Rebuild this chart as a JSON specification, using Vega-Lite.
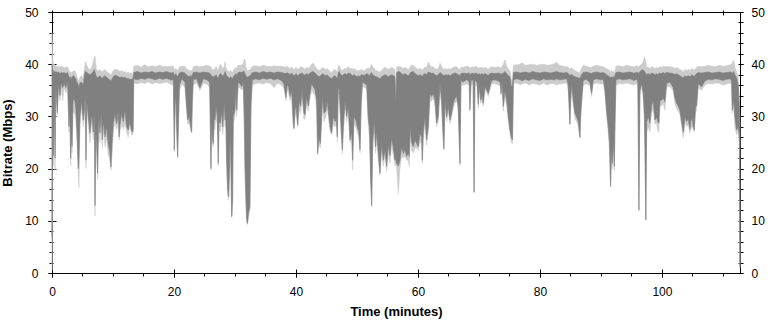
{
  "$schema": "https://vega.github.io/schema/vega-lite/v6.json",
  "width": 688,
  "height": 261,
  "autosize": {"type": "none"},
  "padding": {"left": 52, "top": 12, "right": 31, "bottom": 49},
  "background": "white",
  "config": {
    "view": {"stroke": "black", "strokeWidth": 1},
    "axis": {
      "domain": false, "grid": false, "tickColor": "black", "tickWidth": 1,
      "labelFont": "Liberation Sans", "labelFontSize": 12, "labelColor": "black",
      "labelFlush": false, "labelOverlap": false, "labelBound": false,
      "titleFont": "Liberation Sans", "titleFontSize": 13, "titleFontWeight": "bold", "titleColor": "black",
      "zindex": 1
    }
  },
  "data": {"values": [
    {"t":0.0,"top":40.0,"bot":7.0,"lo":0.5,"hi":46.0},
    {"t":0.12,"top":39.0,"bot":30.0,"lo":26.0,"hi":41.0},
    {"t":0.25,"top":38.6,"bot":22.5,"lo":20.5,"hi":40.0},
    {"t":0.4,"top":38.6,"bot":35.5,"lo":33.0,"hi":40.0},
    {"t":0.5,"top":38.4,"bot":22.0,"lo":19.7,"hi":39.8},
    {"t":0.62,"top":38.6,"bot":36.0,"lo":34.5,"hi":39.6},
    {"t":0.87,"top":38.4,"bot":30.7,"lo":30.0,"hi":39.5},
    {"t":1.05,"top":38.5,"bot":36.3,"lo":35.0,"hi":39.6},
    {"t":1.31,"top":38.2,"bot":34.0,"lo":33.0,"hi":39.4},
    {"t":1.5,"top":38.4,"bot":36.5,"lo":35.5,"hi":39.6},
    {"t":1.75,"top":38.3,"bot":35.5,"lo":33.0,"hi":39.5},
    {"t":2.0,"top":38.4,"bot":36.3,"lo":35.5,"hi":39.3},
    {"t":2.29,"top":38.2,"bot":35.5,"lo":34.5,"hi":39.4},
    {"t":2.55,"top":38.4,"bot":36.8,"lo":35.8,"hi":39.5},
    {"t":2.78,"top":37.6,"bot":28.0,"lo":27.0,"hi":38.8},
    {"t":2.92,"top":37.4,"bot":32.0,"lo":30.0,"hi":38.6},
    {"t":3.06,"top":37.6,"bot":21.9,"lo":20.5,"hi":38.5},
    {"t":3.18,"top":37.0,"bot":27.0,"lo":25.5,"hi":38.2},
    {"t":3.28,"top":37.5,"bot":24.2,"lo":22.9,"hi":38.5},
    {"t":3.45,"top":37.8,"bot":33.0,"lo":31.0,"hi":38.6},
    {"t":3.7,"top":37.6,"bot":33.4,"lo":30.6,"hi":38.8},
    {"t":3.9,"top":37.2,"bot":31.5,"lo":29.5,"hi":38.4},
    {"t":4.1,"top":36.5,"bot":27.0,"lo":25.0,"hi":37.5},
    {"t":4.31,"top":36.0,"bot":20.0,"lo":18.5,"hi":37.0},
    {"t":4.42,"top":35.5,"bot":22.0,"lo":16.4,"hi":36.8},
    {"t":4.59,"top":36.5,"bot":30.0,"lo":28.5,"hi":37.5},
    {"t":4.85,"top":36.5,"bot":33.0,"lo":31.5,"hi":37.8},
    {"t":5.13,"top":36.0,"bot":29.3,"lo":28.0,"hi":37.2},
    {"t":5.3,"top":37.8,"bot":31.0,"lo":29.5,"hi":39.0},
    {"t":5.45,"top":38.6,"bot":34.5,"lo":33.0,"hi":40.2},
    {"t":5.57,"top":38.6,"bot":21.6,"lo":20.0,"hi":40.5},
    {"t":5.7,"top":38.4,"bot":33.0,"lo":31.5,"hi":39.8},
    {"t":5.95,"top":38.2,"bot":30.0,"lo":28.5,"hi":39.2},
    {"t":6.23,"top":38.0,"bot":26.8,"lo":25.0,"hi":39.0},
    {"t":6.5,"top":38.2,"bot":30.5,"lo":29.0,"hi":39.3},
    {"t":6.77,"top":38.6,"bot":27.0,"lo":25.5,"hi":40.5},
    {"t":6.95,"top":39.0,"bot":31.0,"lo":29.0,"hi":41.4},
    {"t":7.05,"top":38.5,"bot":12.9,"lo":10.9,"hi":41.6},
    {"t":7.18,"top":38.0,"bot":28.0,"lo":26.0,"hi":40.0},
    {"t":7.32,"top":37.6,"bot":25.0,"lo":23.0,"hi":38.8},
    {"t":7.48,"top":37.4,"bot":19.1,"lo":18.0,"hi":38.8},
    {"t":7.65,"top":37.6,"bot":30.0,"lo":28.0,"hi":38.8},
    {"t":7.87,"top":37.8,"bot":26.8,"lo":25.0,"hi":39.0},
    {"t":8.05,"top":37.5,"bot":31.0,"lo":29.5,"hi":38.6},
    {"t":8.25,"top":37.2,"bot":25.5,"lo":24.0,"hi":38.5},
    {"t":8.41,"top":37.6,"bot":29.0,"lo":27.5,"hi":38.8},
    {"t":8.7,"top":37.8,"bot":26.1,"lo":24.2,"hi":39.0},
    {"t":8.96,"top":37.5,"bot":28.0,"lo":26.0,"hi":38.6},
    {"t":9.23,"top":37.2,"bot":24.5,"lo":22.5,"hi":38.4},
    {"t":9.45,"top":37.0,"bot":23.5,"lo":22.0,"hi":38.2},
    {"t":9.67,"top":36.8,"bot":20.3,"lo":19.7,"hi":38.0},
    {"t":9.85,"top":37.2,"bot":25.0,"lo":23.0,"hi":38.3},
    {"t":10.05,"top":37.6,"bot":28.6,"lo":26.8,"hi":38.8},
    {"t":10.3,"top":37.9,"bot":30.5,"lo":29.0,"hi":39.0},
    {"t":10.6,"top":37.8,"bot":28.6,"lo":27.5,"hi":39.0},
    {"t":10.87,"top":37.6,"bot":31.0,"lo":29.0,"hi":38.8},
    {"t":11.0,"top":37.6,"bot":26.1,"lo":25.5,"hi":38.8},
    {"t":11.14,"top":37.4,"bot":28.5,"lo":27.0,"hi":38.6},
    {"t":11.42,"top":37.6,"bot":30.5,"lo":28.5,"hi":38.8},
    {"t":11.7,"top":37.4,"bot":29.0,"lo":27.5,"hi":38.5},
    {"t":11.97,"top":37.5,"bot":31.2,"lo":28.7,"hi":38.6},
    {"t":12.24,"top":37.2,"bot":28.0,"lo":27.0,"hi":38.3},
    {"t":12.5,"top":37.3,"bot":27.4,"lo":26.0,"hi":38.5},
    {"t":12.78,"top":37.0,"bot":29.0,"lo":28.7,"hi":38.2},
    {"t":13.0,"top":37.2,"bot":27.4,"lo":26.5,"hi":38.4},
    {"t":13.22,"top":37.0,"bot":27.0,"lo":26.5,"hi":38.0},
    {"t":13.3,"top":37.4,"bot":27.5,"lo":26.8,"hi":38.4},
    {"t":13.4,"top":38.4,"bot":37.2,"lo":36.4,"hi":39.6},
    {"t":14.0,"top":38.6,"bot":37.0,"lo":36.2,"hi":39.8},
    {"t":14.6,"top":38.3,"bot":37.3,"lo":36.5,"hi":39.4},
    {"t":15.2,"top":38.5,"bot":37.1,"lo":36.3,"hi":39.9},
    {"t":15.8,"top":38.4,"bot":37.4,"lo":36.6,"hi":39.5},
    {"t":16.4,"top":38.6,"bot":37.2,"lo":36.2,"hi":39.7},
    {"t":17.0,"top":38.3,"bot":37.0,"lo":36.5,"hi":39.5},
    {"t":17.6,"top":38.5,"bot":37.3,"lo":36.3,"hi":39.8},
    {"t":18.2,"top":38.4,"bot":37.1,"lo":36.4,"hi":39.6},
    {"t":18.8,"top":38.6,"bot":37.3,"lo":36.6,"hi":39.5},
    {"t":19.4,"top":38.3,"bot":37.0,"lo":36.2,"hi":39.6},
    {"t":19.9,"top":38.4,"bot":37.0,"lo":36.0,"hi":39.6},
    {"t":20.0,"top":38.0,"bot":28.0,"lo":26.5,"hi":39.2},
    {"t":20.05,"top":37.8,"bot":23.6,"lo":23.2,"hi":39.0},
    {"t":20.16,"top":38.0,"bot":32.0,"lo":30.0,"hi":39.0},
    {"t":20.3,"top":38.2,"bot":34.0,"lo":31.5,"hi":39.2},
    {"t":20.45,"top":37.8,"bot":28.0,"lo":26.0,"hi":39.0},
    {"t":20.6,"top":37.6,"bot":22.3,"lo":22.0,"hi":38.8},
    {"t":20.75,"top":38.0,"bot":30.0,"lo":28.0,"hi":39.0},
    {"t":20.9,"top":38.3,"bot":36.0,"lo":35.0,"hi":39.5},
    {"t":21.3,"top":38.5,"bot":37.2,"lo":36.2,"hi":39.6},
    {"t":21.8,"top":38.3,"bot":36.5,"lo":35.5,"hi":39.6},
    {"t":22.0,"top":38.0,"bot":33.0,"lo":32.0,"hi":39.2},
    {"t":22.24,"top":37.8,"bot":29.3,"lo":28.5,"hi":39.0},
    {"t":22.45,"top":37.6,"bot":30.0,"lo":28.7,"hi":38.8},
    {"t":22.7,"top":37.8,"bot":28.5,"lo":27.5,"hi":38.8},
    {"t":22.89,"top":37.6,"bot":27.0,"lo":26.8,"hi":38.8},
    {"t":23.0,"top":38.0,"bot":33.0,"lo":31.0,"hi":39.0},
    {"t":23.16,"top":38.4,"bot":37.0,"lo":36.0,"hi":39.5},
    {"t":23.7,"top":38.5,"bot":37.2,"lo":36.4,"hi":39.7},
    {"t":24.26,"top":38.3,"bot":35.5,"lo":35.0,"hi":39.5},
    {"t":24.8,"top":38.5,"bot":37.2,"lo":36.3,"hi":39.6},
    {"t":25.4,"top":38.4,"bot":37.0,"lo":36.2,"hi":39.8},
    {"t":25.85,"top":38.3,"bot":36.5,"lo":35.5,"hi":39.6},
    {"t":26.06,"top":38.0,"bot":20.0,"lo":19.7,"hi":39.5},
    {"t":26.17,"top":37.8,"bot":29.0,"lo":27.0,"hi":39.2},
    {"t":26.3,"top":37.6,"bot":26.0,"lo":24.5,"hi":39.0},
    {"t":26.44,"top":37.5,"bot":24.8,"lo":24.2,"hi":38.8},
    {"t":26.6,"top":37.8,"bot":30.0,"lo":28.0,"hi":39.2},
    {"t":26.72,"top":37.6,"bot":29.3,"lo":27.5,"hi":39.0},
    {"t":26.9,"top":38.0,"bot":32.0,"lo":30.0,"hi":39.6},
    {"t":27.1,"top":37.5,"bot":30.0,"lo":28.5,"hi":39.0},
    {"t":27.26,"top":37.2,"bot":21.0,"lo":20.5,"hi":38.8},
    {"t":27.37,"top":37.8,"bot":29.0,"lo":27.5,"hi":39.4},
    {"t":27.6,"top":38.2,"bot":28.7,"lo":27.0,"hi":40.0},
    {"t":27.81,"top":38.0,"bot":31.0,"lo":29.0,"hi":39.6},
    {"t":28.0,"top":37.8,"bot":28.0,"lo":26.5,"hi":39.2},
    {"t":28.25,"top":38.0,"bot":33.0,"lo":31.0,"hi":39.5},
    {"t":28.36,"top":38.6,"bot":29.3,"lo":28.0,"hi":40.5},
    {"t":28.5,"top":38.2,"bot":30.0,"lo":28.0,"hi":39.6},
    {"t":28.63,"top":37.8,"bot":22.0,"lo":20.0,"hi":39.0},
    {"t":28.8,"top":37.6,"bot":16.0,"lo":15.0,"hi":38.8},
    {"t":28.95,"top":37.4,"bot":14.6,"lo":14.0,"hi":38.6},
    {"t":29.1,"top":37.2,"bot":20.0,"lo":18.0,"hi":38.5},
    {"t":29.25,"top":37.6,"bot":28.0,"lo":26.0,"hi":38.8},
    {"t":29.45,"top":37.4,"bot":10.8,"lo":10.7,"hi":38.6},
    {"t":29.61,"top":37.2,"bot":14.0,"lo":11.5,"hi":38.4},
    {"t":29.72,"top":37.6,"bot":29.9,"lo":28.5,"hi":38.8},
    {"t":30.0,"top":38.0,"bot":31.2,"lo":30.0,"hi":39.2},
    {"t":30.16,"top":38.2,"bot":35.1,"lo":34.0,"hi":39.4},
    {"t":30.3,"top":37.8,"bot":31.2,"lo":30.0,"hi":39.2},
    {"t":30.5,"top":38.4,"bot":36.5,"lo":35.5,"hi":39.8},
    {"t":30.81,"top":38.5,"bot":36.3,"lo":35.5,"hi":39.8},
    {"t":31.1,"top":38.4,"bot":35.7,"lo":35.0,"hi":39.8},
    {"t":31.36,"top":38.6,"bot":36.5,"lo":35.5,"hi":40.2},
    {"t":31.53,"top":38.6,"bot":30.0,"lo":26.0,"hi":41.0},
    {"t":31.64,"top":38.2,"bot":20.4,"lo":19.0,"hi":40.8},
    {"t":31.8,"top":37.8,"bot":14.0,"lo":12.0,"hi":39.5},
    {"t":31.95,"top":37.6,"bot":10.0,"lo":9.6,"hi":39.0},
    {"t":32.05,"top":37.4,"bot":9.5,"lo":9.3,"hi":38.8},
    {"t":32.2,"top":37.6,"bot":11.5,"lo":10.5,"hi":38.8},
    {"t":32.45,"top":37.8,"bot":12.7,"lo":12.0,"hi":39.0},
    {"t":32.62,"top":38.0,"bot":32.5,"lo":30.0,"hi":39.2},
    {"t":32.84,"top":38.4,"bot":37.0,"lo":36.0,"hi":39.6},
    {"t":33.4,"top":38.5,"bot":37.2,"lo":36.3,"hi":39.7},
    {"t":34.0,"top":38.3,"bot":37.0,"lo":36.4,"hi":39.5},
    {"t":34.6,"top":38.6,"bot":37.3,"lo":36.2,"hi":39.8},
    {"t":35.2,"top":38.4,"bot":37.1,"lo":36.5,"hi":39.6},
    {"t":35.8,"top":38.5,"bot":37.3,"lo":36.3,"hi":39.5},
    {"t":36.4,"top":38.3,"bot":37.0,"lo":35.5,"hi":39.7},
    {"t":37.0,"top":38.5,"bot":37.2,"lo":36.4,"hi":39.6},
    {"t":37.6,"top":38.4,"bot":36.9,"lo":36.0,"hi":39.6},
    {"t":38.0,"top":38.3,"bot":36.3,"lo":35.5,"hi":39.5},
    {"t":38.36,"top":38.2,"bot":33.6,"lo":33.0,"hi":39.4},
    {"t":38.55,"top":38.4,"bot":36.0,"lo":35.0,"hi":39.6},
    {"t":38.8,"top":38.2,"bot":35.7,"lo":34.5,"hi":39.4},
    {"t":39.02,"top":38.0,"bot":33.8,"lo":33.0,"hi":39.2},
    {"t":39.29,"top":38.3,"bot":35.0,"lo":34.0,"hi":39.5},
    {"t":39.5,"top":38.0,"bot":30.0,"lo":28.5,"hi":39.2},
    {"t":39.68,"top":37.8,"bot":27.7,"lo":27.5,"hi":39.0},
    {"t":39.84,"top":38.0,"bot":31.2,"lo":30.0,"hi":39.2},
    {"t":40.0,"top":38.2,"bot":32.0,"lo":30.5,"hi":39.4},
    {"t":40.3,"top":37.8,"bot":28.4,"lo":28.0,"hi":39.0},
    {"t":40.5,"top":38.0,"bot":33.0,"lo":31.5,"hi":39.2},
    {"t":40.77,"top":38.2,"bot":31.9,"lo":30.5,"hi":39.5},
    {"t":41.0,"top":38.3,"bot":35.0,"lo":34.0,"hi":39.5},
    {"t":41.3,"top":38.0,"bot":30.6,"lo":29.5,"hi":39.2},
    {"t":41.48,"top":37.9,"bot":30.3,"lo":29.5,"hi":39.0},
    {"t":41.75,"top":38.2,"bot":33.8,"lo":32.5,"hi":39.4},
    {"t":42.02,"top":38.0,"bot":32.0,"lo":31.0,"hi":39.2},
    {"t":42.3,"top":38.3,"bot":34.4,"lo":33.5,"hi":39.5},
    {"t":42.57,"top":38.5,"bot":36.3,"lo":35.0,"hi":40.0},
    {"t":42.84,"top":38.6,"bot":35.7,"lo":34.5,"hi":40.2},
    {"t":43.12,"top":38.3,"bot":35.1,"lo":34.0,"hi":39.6},
    {"t":43.39,"top":38.0,"bot":33.0,"lo":31.5,"hi":39.2},
    {"t":43.55,"top":37.8,"bot":22.9,"lo":22.6,"hi":39.0},
    {"t":43.75,"top":37.6,"bot":26.0,"lo":24.5,"hi":38.8},
    {"t":44.0,"top":37.8,"bot":24.8,"lo":24.0,"hi":39.0},
    {"t":44.21,"top":38.0,"bot":30.0,"lo":28.5,"hi":39.2},
    {"t":44.37,"top":38.2,"bot":33.8,"lo":32.5,"hi":39.4},
    {"t":44.59,"top":38.0,"bot":30.6,"lo":29.0,"hi":39.2},
    {"t":44.9,"top":37.8,"bot":31.0,"lo":30.0,"hi":39.0},
    {"t":45.1,"top":38.0,"bot":33.1,"lo":32.0,"hi":39.2},
    {"t":45.4,"top":37.6,"bot":30.0,"lo":29.0,"hi":38.8},
    {"t":45.6,"top":37.4,"bot":28.0,"lo":27.0,"hi":38.6},
    {"t":45.85,"top":37.2,"bot":26.8,"lo":26.5,"hi":38.4},
    {"t":46.1,"top":37.6,"bot":30.0,"lo":28.5,"hi":38.8},
    {"t":46.4,"top":37.8,"bot":29.0,"lo":28.0,"hi":39.0},
    {"t":46.6,"top":37.5,"bot":29.5,"lo":28.5,"hi":38.8},
    {"t":46.78,"top":37.2,"bot":26.1,"lo":25.0,"hi":38.4},
    {"t":46.94,"top":38.4,"bot":35.7,"lo":34.5,"hi":39.6},
    {"t":47.1,"top":38.6,"bot":35.1,"lo":34.0,"hi":39.8},
    {"t":47.35,"top":38.0,"bot":29.0,"lo":27.5,"hi":39.0},
    {"t":47.6,"top":37.8,"bot":23.6,"lo":22.9,"hi":38.8},
    {"t":47.76,"top":38.0,"bot":28.0,"lo":26.5,"hi":39.0},
    {"t":48.04,"top":38.2,"bot":33.0,"lo":32.0,"hi":39.2},
    {"t":48.31,"top":38.0,"bot":30.0,"lo":29.0,"hi":39.2},
    {"t":48.58,"top":38.3,"bot":32.0,"lo":30.5,"hi":39.5},
    {"t":48.86,"top":38.2,"bot":25.5,"lo":25.0,"hi":39.2},
    {"t":49.13,"top":38.0,"bot":27.0,"lo":26.0,"hi":39.2},
    {"t":49.29,"top":37.8,"bot":21.6,"lo":19.7,"hi":39.0},
    {"t":49.51,"top":38.0,"bot":30.0,"lo":28.5,"hi":39.2},
    {"t":49.8,"top":37.8,"bot":29.3,"lo":28.0,"hi":38.9},
    {"t":50.05,"top":37.6,"bot":28.0,"lo":27.0,"hi":38.8},
    {"t":50.3,"top":37.8,"bot":27.0,"lo":26.0,"hi":38.8},
    {"t":50.5,"top":37.6,"bot":23.6,"lo":23.0,"hi":38.8},
    {"t":50.7,"top":38.0,"bot":33.0,"lo":31.0,"hi":39.0},
    {"t":50.9,"top":37.9,"bot":36.6,"lo":35.8,"hi":38.8},
    {"t":51.3,"top":37.9,"bot":36.3,"lo":35.5,"hi":38.8},
    {"t":51.6,"top":38.2,"bot":36.0,"lo":35.0,"hi":39.2},
    {"t":51.86,"top":38.0,"bot":29.3,"lo":28.0,"hi":39.2},
    {"t":52.05,"top":37.8,"bot":28.0,"lo":26.0,"hi":39.2},
    {"t":52.25,"top":38.2,"bot":18.0,"lo":17.0,"hi":39.6},
    {"t":52.41,"top":38.4,"bot":12.9,"lo":12.7,"hi":40.0},
    {"t":52.57,"top":38.0,"bot":25.0,"lo":23.0,"hi":39.5},
    {"t":52.85,"top":37.8,"bot":29.3,"lo":27.5,"hi":39.2},
    {"t":53.05,"top":37.6,"bot":24.2,"lo":23.0,"hi":38.8},
    {"t":53.23,"top":37.6,"bot":27.0,"lo":25.5,"hi":38.8},
    {"t":53.5,"top":37.4,"bot":23.0,"lo":21.5,"hi":38.6},
    {"t":53.77,"top":37.2,"bot":19.1,"lo":18.8,"hi":38.5},
    {"t":54.05,"top":37.6,"bot":24.8,"lo":23.5,"hi":38.8},
    {"t":54.32,"top":37.8,"bot":21.6,"lo":20.5,"hi":39.2},
    {"t":54.59,"top":38.0,"bot":23.6,"lo":22.5,"hi":39.4},
    {"t":54.87,"top":37.8,"bot":20.4,"lo":19.5,"hi":39.2},
    {"t":55.14,"top":37.6,"bot":24.5,"lo":23.0,"hi":39.0},
    {"t":55.41,"top":37.8,"bot":22.5,"lo":21.0,"hi":39.2},
    {"t":55.69,"top":38.0,"bot":26.0,"lo":24.5,"hi":39.4},
    {"t":55.96,"top":37.8,"bot":24.0,"lo":22.5,"hi":39.2},
    {"t":56.23,"top":37.6,"bot":21.6,"lo":20.5,"hi":39.0},
    {"t":56.35,"top":32.0,"bot":22.0,"lo":21.0,"hi":33.0},
    {"t":56.5,"top":38.4,"bot":21.0,"lo":20.0,"hi":39.4},
    {"t":56.78,"top":38.6,"bot":20.5,"lo":15.2,"hi":39.6},
    {"t":57.05,"top":38.5,"bot":21.6,"lo":20.0,"hi":39.5},
    {"t":57.32,"top":38.2,"bot":24.2,"lo":22.5,"hi":39.4},
    {"t":57.6,"top":38.0,"bot":22.9,"lo":22.0,"hi":39.2},
    {"t":57.87,"top":38.2,"bot":23.6,"lo":22.5,"hi":39.4},
    {"t":58.14,"top":38.0,"bot":22.3,"lo":21.6,"hi":39.2},
    {"t":58.42,"top":37.8,"bot":23.0,"lo":21.6,"hi":39.0},
    {"t":58.58,"top":38.0,"bot":22.3,"lo":20.4,"hi":39.2},
    {"t":58.75,"top":38.4,"bot":28.0,"lo":26.5,"hi":39.6},
    {"t":58.96,"top":38.5,"bot":25.0,"lo":23.5,"hi":39.8},
    {"t":59.24,"top":38.6,"bot":24.2,"lo":23.0,"hi":39.8},
    {"t":59.51,"top":38.2,"bot":25.5,"lo":24.0,"hi":39.4},
    {"t":59.78,"top":38.0,"bot":24.8,"lo":24.0,"hi":39.2},
    {"t":60.06,"top":37.8,"bot":24.2,"lo":23.5,"hi":39.0},
    {"t":60.33,"top":38.0,"bot":26.8,"lo":25.5,"hi":39.2},
    {"t":60.6,"top":37.8,"bot":26.0,"lo":24.5,"hi":39.0},
    {"t":60.71,"top":37.6,"bot":21.6,"lo":21.0,"hi":38.8},
    {"t":60.87,"top":38.0,"bot":27.0,"lo":25.5,"hi":39.2},
    {"t":61.15,"top":38.2,"bot":29.9,"lo":28.5,"hi":39.4},
    {"t":61.42,"top":38.0,"bot":25.5,"lo":24.5,"hi":39.4},
    {"t":61.69,"top":38.5,"bot":28.0,"lo":27.0,"hi":40.4},
    {"t":61.97,"top":38.4,"bot":34.4,"lo":33.0,"hi":39.8},
    {"t":62.24,"top":38.2,"bot":33.8,"lo":33.0,"hi":39.5},
    {"t":62.51,"top":38.3,"bot":34.4,"lo":33.5,"hi":39.5},
    {"t":62.79,"top":38.0,"bot":33.1,"lo":32.0,"hi":39.2},
    {"t":63.06,"top":37.8,"bot":28.7,"lo":28.0,"hi":39.0},
    {"t":63.33,"top":38.0,"bot":30.0,"lo":29.0,"hi":39.2},
    {"t":63.61,"top":38.4,"bot":36.3,"lo":35.0,"hi":40.2},
    {"t":63.88,"top":38.2,"bot":33.0,"lo":32.0,"hi":39.6},
    {"t":64.1,"top":37.9,"bot":27.0,"lo":26.0,"hi":39.2},
    {"t":64.26,"top":37.8,"bot":23.8,"lo":23.5,"hi":39.0},
    {"t":64.43,"top":38.0,"bot":33.1,"lo":32.0,"hi":39.2},
    {"t":64.7,"top":37.9,"bot":29.9,"lo":29.0,"hi":39.0},
    {"t":64.97,"top":38.0,"bot":31.9,"lo":31.0,"hi":39.2},
    {"t":65.25,"top":37.8,"bot":29.3,"lo":28.5,"hi":39.0},
    {"t":65.52,"top":38.0,"bot":30.6,"lo":30.0,"hi":39.2},
    {"t":65.79,"top":38.2,"bot":32.5,"lo":31.5,"hi":39.4},
    {"t":66.07,"top":38.3,"bot":33.5,"lo":32.5,"hi":39.5},
    {"t":66.34,"top":38.2,"bot":33.8,"lo":33.0,"hi":39.5},
    {"t":66.6,"top":38.0,"bot":32.0,"lo":31.0,"hi":39.2},
    {"t":66.89,"top":37.8,"bot":21.0,"lo":20.5,"hi":39.0},
    {"t":67.05,"top":38.2,"bot":36.9,"lo":36.0,"hi":39.4},
    {"t":67.43,"top":38.3,"bot":36.6,"lo":36.0,"hi":39.4},
    {"t":67.98,"top":38.2,"bot":37.0,"lo":36.2,"hi":39.6},
    {"t":68.4,"top":38.3,"bot":36.7,"lo":36.0,"hi":39.5},
    {"t":68.52,"top":38.0,"bot":31.3,"lo":31.0,"hi":39.2},
    {"t":68.7,"top":38.2,"bot":36.9,"lo":36.0,"hi":39.4},
    {"t":69.05,"top":38.3,"bot":37.0,"lo":36.2,"hi":39.5},
    {"t":69.2,"top":38.0,"bot":15.5,"lo":15.3,"hi":39.3},
    {"t":69.34,"top":38.3,"bot":36.9,"lo":36.0,"hi":39.6},
    {"t":69.7,"top":38.2,"bot":36.6,"lo":35.8,"hi":39.5},
    {"t":69.89,"top":38.0,"bot":32.3,"lo":31.5,"hi":39.2},
    {"t":70.05,"top":38.2,"bot":36.0,"lo":35.0,"hi":39.4},
    {"t":70.3,"top":38.0,"bot":33.1,"lo":32.5,"hi":39.3},
    {"t":70.5,"top":38.2,"bot":34.0,"lo":33.0,"hi":39.4},
    {"t":70.71,"top":38.0,"bot":32.5,"lo":32.0,"hi":39.2},
    {"t":70.98,"top":38.2,"bot":35.7,"lo":35.0,"hi":39.4},
    {"t":71.3,"top":38.0,"bot":35.0,"lo":34.5,"hi":39.2},
    {"t":71.53,"top":37.9,"bot":34.4,"lo":33.8,"hi":39.0},
    {"t":71.8,"top":38.2,"bot":35.7,"lo":35.0,"hi":39.4},
    {"t":72.08,"top":38.3,"bot":36.9,"lo":36.2,"hi":39.5},
    {"t":72.6,"top":38.2,"bot":37.0,"lo":36.3,"hi":39.4},
    {"t":73.17,"top":38.3,"bot":36.8,"lo":36.0,"hi":39.5},
    {"t":73.5,"top":38.2,"bot":36.5,"lo":35.8,"hi":39.4},
    {"t":73.61,"top":38.0,"bot":34.4,"lo":34.0,"hi":39.2},
    {"t":73.8,"top":38.3,"bot":36.5,"lo":35.5,"hi":39.6},
    {"t":73.99,"top":38.2,"bot":31.9,"lo":31.0,"hi":40.0},
    {"t":74.26,"top":38.6,"bot":35.0,"lo":34.0,"hi":40.8},
    {"t":74.54,"top":38.2,"bot":33.0,"lo":32.0,"hi":39.6},
    {"t":74.81,"top":37.8,"bot":30.0,"lo":29.0,"hi":39.0},
    {"t":75.08,"top":37.6,"bot":27.4,"lo":27.0,"hi":38.8},
    {"t":75.3,"top":35.7,"bot":26.0,"lo":25.0,"hi":37.0},
    {"t":75.5,"top":36.0,"bot":25.5,"lo":24.8,"hi":37.2},
    {"t":75.65,"top":38.4,"bot":37.0,"lo":36.3,"hi":39.8},
    {"t":76.2,"top":38.5,"bot":37.2,"lo":36.4,"hi":39.9},
    {"t":76.8,"top":38.3,"bot":37.0,"lo":36.0,"hi":40.0},
    {"t":77.0,"top":38.4,"bot":36.8,"lo":36.2,"hi":40.3},
    {"t":77.6,"top":38.5,"bot":37.1,"lo":36.4,"hi":39.8},
    {"t":78.2,"top":38.3,"bot":36.9,"lo":36.0,"hi":39.9},
    {"t":78.8,"top":38.6,"bot":37.2,"lo":36.3,"hi":40.0},
    {"t":79.4,"top":38.4,"bot":37.0,"lo":36.2,"hi":39.8},
    {"t":80.0,"top":38.3,"bot":36.9,"lo":36.0,"hi":39.9},
    {"t":80.6,"top":38.5,"bot":37.2,"lo":36.4,"hi":40.0},
    {"t":81.2,"top":38.4,"bot":37.0,"lo":36.0,"hi":39.8},
    {"t":81.8,"top":38.3,"bot":37.1,"lo":36.3,"hi":39.9},
    {"t":82.4,"top":38.5,"bot":37.0,"lo":36.2,"hi":40.1},
    {"t":82.7,"top":38.6,"bot":37.2,"lo":36.0,"hi":40.4},
    {"t":83.2,"top":38.4,"bot":37.0,"lo":36.2,"hi":39.8},
    {"t":83.8,"top":38.3,"bot":37.1,"lo":36.3,"hi":39.6},
    {"t":84.4,"top":38.4,"bot":37.2,"lo":36.4,"hi":39.5},
    {"t":84.64,"top":38.2,"bot":36.0,"lo":35.0,"hi":39.4},
    {"t":84.92,"top":37.8,"bot":28.5,"lo":28.4,"hi":39.0},
    {"t":85.03,"top":38.0,"bot":33.0,"lo":32.0,"hi":39.2},
    {"t":85.19,"top":38.0,"bot":36.3,"lo":35.0,"hi":39.3},
    {"t":85.46,"top":37.8,"bot":33.1,"lo":32.0,"hi":39.0},
    {"t":85.74,"top":37.6,"bot":30.6,"lo":29.5,"hi":38.8},
    {"t":86.01,"top":37.5,"bot":29.9,"lo":29.0,"hi":38.6},
    {"t":86.28,"top":37.4,"bot":29.0,"lo":28.0,"hi":38.5},
    {"t":86.56,"top":37.2,"bot":26.0,"lo":25.8,"hi":38.3},
    {"t":86.66,"top":37.6,"bot":30.0,"lo":29.0,"hi":38.8},
    {"t":86.83,"top":38.0,"bot":33.1,"lo":32.0,"hi":39.2},
    {"t":87.1,"top":38.4,"bot":36.9,"lo":36.0,"hi":39.8},
    {"t":87.6,"top":38.5,"bot":37.1,"lo":36.2,"hi":39.6},
    {"t":88.2,"top":38.3,"bot":36.5,"lo":36.0,"hi":39.4},
    {"t":88.47,"top":38.2,"bot":34.4,"lo":33.8,"hi":39.4},
    {"t":88.74,"top":38.4,"bot":37.0,"lo":36.2,"hi":39.6},
    {"t":89.3,"top":38.5,"bot":37.2,"lo":36.4,"hi":39.8},
    {"t":89.9,"top":38.3,"bot":37.0,"lo":36.2,"hi":39.6},
    {"t":90.4,"top":38.4,"bot":37.1,"lo":36.3,"hi":39.5},
    {"t":90.65,"top":38.2,"bot":35.0,"lo":34.5,"hi":39.3},
    {"t":90.93,"top":38.0,"bot":31.0,"lo":30.0,"hi":39.2},
    {"t":91.2,"top":37.8,"bot":28.0,"lo":27.0,"hi":39.0},
    {"t":91.4,"top":37.6,"bot":25.0,"lo":23.6,"hi":38.8},
    {"t":91.58,"top":37.4,"bot":16.6,"lo":16.5,"hi":38.6},
    {"t":91.75,"top":37.6,"bot":24.0,"lo":22.0,"hi":38.8},
    {"t":91.9,"top":37.4,"bot":21.0,"lo":20.0,"hi":38.5},
    {"t":92.02,"top":37.6,"bot":25.5,"lo":24.0,"hi":38.6},
    {"t":92.2,"top":37.4,"bot":20.4,"lo":19.5,"hi":38.4},
    {"t":92.29,"top":37.8,"bot":28.0,"lo":26.0,"hi":38.8},
    {"t":92.46,"top":38.4,"bot":37.0,"lo":36.0,"hi":39.6},
    {"t":93.0,"top":38.5,"bot":37.2,"lo":36.3,"hi":39.7},
    {"t":93.6,"top":38.3,"bot":37.0,"lo":36.2,"hi":39.5},
    {"t":94.2,"top":38.4,"bot":37.1,"lo":36.4,"hi":39.8},
    {"t":94.8,"top":38.5,"bot":37.2,"lo":36.2,"hi":39.6},
    {"t":95.4,"top":38.3,"bot":36.9,"lo":36.0,"hi":39.5},
    {"t":95.9,"top":38.4,"bot":37.1,"lo":36.3,"hi":39.7},
    {"t":96.05,"top":38.4,"bot":36.5,"lo":35.5,"hi":39.6},
    {"t":96.23,"top":38.2,"bot":12.1,"lo":11.8,"hi":39.4},
    {"t":96.39,"top":38.6,"bot":35.0,"lo":34.0,"hi":39.8},
    {"t":96.7,"top":38.9,"bot":36.3,"lo":35.5,"hi":40.0},
    {"t":96.94,"top":38.9,"bot":34.4,"lo":33.5,"hi":40.5},
    {"t":97.15,"top":38.6,"bot":30.0,"lo":28.0,"hi":41.4},
    {"t":97.37,"top":38.2,"bot":10.2,"lo":10.0,"hi":40.5},
    {"t":97.5,"top":38.0,"bot":29.0,"lo":27.0,"hi":39.5},
    {"t":97.76,"top":38.2,"bot":29.9,"lo":28.0,"hi":39.4},
    {"t":98.03,"top":38.0,"bot":28.7,"lo":27.0,"hi":39.2},
    {"t":98.3,"top":38.3,"bot":32.0,"lo":30.5,"hi":39.5},
    {"t":98.57,"top":38.2,"bot":33.1,"lo":31.5,"hi":39.4},
    {"t":98.85,"top":38.0,"bot":29.3,"lo":28.5,"hi":39.2},
    {"t":99.12,"top":38.2,"bot":29.9,"lo":28.7,"hi":39.4},
    {"t":99.3,"top":38.0,"bot":29.0,"lo":27.4,"hi":39.2},
    {"t":99.5,"top":38.2,"bot":28.7,"lo":27.0,"hi":39.4},
    {"t":99.67,"top":38.3,"bot":33.0,"lo":32.0,"hi":39.5},
    {"t":99.94,"top":38.2,"bot":33.1,"lo":32.0,"hi":39.4},
    {"t":100.21,"top":38.4,"bot":33.5,"lo":32.5,"hi":39.6},
    {"t":100.49,"top":38.2,"bot":32.8,"lo":31.2,"hi":39.5},
    {"t":100.76,"top":38.4,"bot":36.3,"lo":35.5,"hi":39.6},
    {"t":101.31,"top":38.3,"bot":36.6,"lo":35.8,"hi":39.5},
    {"t":101.85,"top":38.2,"bot":35.5,"lo":34.8,"hi":39.4},
    {"t":102.13,"top":38.0,"bot":33.5,"lo":32.5,"hi":39.2},
    {"t":102.4,"top":38.2,"bot":32.5,"lo":31.5,"hi":39.4},
    {"t":102.67,"top":38.0,"bot":32.0,"lo":31.0,"hi":39.2},
    {"t":102.95,"top":37.8,"bot":31.2,"lo":30.5,"hi":39.0},
    {"t":103.22,"top":37.6,"bot":29.0,"lo":28.0,"hi":38.8},
    {"t":103.49,"top":37.4,"bot":27.0,"lo":25.9,"hi":38.6},
    {"t":103.66,"top":37.6,"bot":28.5,"lo":27.0,"hi":38.8},
    {"t":103.77,"top":37.8,"bot":30.0,"lo":29.0,"hi":39.0},
    {"t":104.04,"top":37.6,"bot":29.0,"lo":28.0,"hi":38.8},
    {"t":104.31,"top":37.8,"bot":29.5,"lo":28.5,"hi":39.0},
    {"t":104.59,"top":37.6,"bot":27.5,"lo":26.8,"hi":38.8},
    {"t":104.75,"top":37.8,"bot":29.0,"lo":27.5,"hi":39.0},
    {"t":104.97,"top":38.0,"bot":29.9,"lo":28.2,"hi":39.2},
    {"t":105.13,"top":37.8,"bot":28.0,"lo":27.5,"hi":39.0},
    {"t":105.3,"top":37.6,"bot":27.4,"lo":27.0,"hi":38.8},
    {"t":105.51,"top":38.0,"bot":31.9,"lo":31.0,"hi":39.2},
    {"t":105.68,"top":38.2,"bot":32.0,"lo":31.0,"hi":39.4},
    {"t":105.95,"top":38.4,"bot":36.3,"lo":35.5,"hi":39.6},
    {"t":106.5,"top":38.3,"bot":35.7,"lo":35.0,"hi":39.5},
    {"t":107.05,"top":38.4,"bot":36.8,"lo":36.0,"hi":39.6},
    {"t":107.6,"top":38.5,"bot":37.1,"lo":36.3,"hi":39.8},
    {"t":108.2,"top":38.3,"bot":37.0,"lo":36.2,"hi":39.6},
    {"t":108.8,"top":38.4,"bot":37.2,"lo":36.4,"hi":39.5},
    {"t":109.4,"top":38.5,"bot":37.1,"lo":36.3,"hi":39.8},
    {"t":110.0,"top":38.3,"bot":36.9,"lo":36.0,"hi":39.6},
    {"t":110.6,"top":38.4,"bot":37.1,"lo":36.2,"hi":39.7},
    {"t":111.2,"top":38.5,"bot":37.2,"lo":36.4,"hi":39.9},
    {"t":111.42,"top":38.4,"bot":36.8,"lo":36.0,"hi":40.0},
    {"t":111.53,"top":38.2,"bot":31.2,"lo":30.6,"hi":40.2},
    {"t":111.75,"top":38.6,"bot":33.0,"lo":32.0,"hi":40.8},
    {"t":111.96,"top":38.0,"bot":30.0,"lo":28.0,"hi":39.4},
    {"t":112.24,"top":37.4,"bot":27.4,"lo":26.5,"hi":38.5},
    {"t":112.51,"top":36.0,"bot":28.0,"lo":27.0,"hi":37.5},
    {"t":112.7,"top":32.0,"bot":26.0,"lo":25.0,"hi":33.0},
    {"t":112.78,"top":28.0,"bot":1.2,"lo":1.0,"hi":29.0}
  ]},
  "layer": [
    {
      "mark": {"type": "area", "orient": "vertical", "color": "#cccccc", "stroke": "#cccccc", "strokeWidth": 0.6},
      "encoding": {
        "x": {"field": "t", "type": "quantitative", "scale": {"domain": [0, 112.8], "nice": false, "zero": false},
              "axis": {"orient": "bottom", "values": [0, 20, 40, 60, 80, 100], "tickSize": 4, "labelPadding": 9, "title": "Time (minutes)", "titlePadding": 8}},
        "y": {"field": "lo", "type": "quantitative", "scale": {"domain": [0, 50], "nice": false},
              "axis": {"orient": "left", "values": [0, 10, 20, 30, 40, 50], "tickSize": 4, "labelPadding": 10, "title": "Bitrate (Mbps)", "titlePadding": 10}},
        "y2": {"field": "hi"}
      }
    },
    {
      "mark": {"type": "area", "orient": "vertical", "color": "#808080", "stroke": "#808080", "strokeWidth": 0.6},
      "encoding": {
        "x": {"field": "t", "type": "quantitative",
              "axis": {"orient": "top", "values": [0,5,10,15,20,25,30,35,40,45,50,55,60,65,70,75,80,85,90,95,100,105,110], "tickSize": 5, "offset": -3, "labels": false, "title": null}},
        "y": {"field": "bot", "type": "quantitative",
              "axis": {"orient": "right", "values": [0, 10, 20, 30, 40, 50], "tickSize": 3, "labelPadding": 8, "title": null}},
        "y2": {"field": "top"}
      }
    },
    {
      "mark": {"type": "point", "opacity": 0},
      "encoding": {
        "x": {"field": "t", "type": "quantitative",
              "axis": {"orient": "bottom", "values": [0, 20, 40, 60, 80, 100], "tickSize": 8, "offset": -4, "labels": false, "title": null}},
        "y": {"field": "lo", "type": "quantitative",
              "axis": {"orient": "left", "values": [0, 10, 20, 30, 40, 50], "tickSize": 8, "offset": -4, "labels": false, "title": null}}
      }
    },
    {
      "mark": {"type": "point", "opacity": 0},
      "encoding": {
        "x": {"field": "t", "type": "quantitative",
              "axis": {"orient": "bottom", "values": [5,10,15,25,30,35,45,50,55,65,70,75,85,90,95,105,110], "tickSize": 3, "labels": false, "title": null}},
        "y": {"field": "lo", "type": "quantitative",
              "axis": {"orient": "left", "values": [2,4,6,8,12,14,16,18,22,24,26,28,32,34,36,38,42,44,46,48], "tickSize": 4, "offset": -1, "labels": false, "title": null}}
      }
    },
    {
      "mark": {"type": "point", "opacity": 0},
      "encoding": {
        "x": {"field": "t", "type": "quantitative", "axis": null},
        "y": {"field": "lo", "type": "quantitative",
              "axis": {"orient": "right", "values": [0,2,4,6,8,10,12,14,16,18,20,22,24,26,28,30,32,34,36,38,40,42,44,46,48,50], "tickSize": 5, "offset": -2, "labels": false, "title": null}}
      }
    }
  ],
  "resolve": {"axis": {"x": "independent", "y": "independent"}}
}
